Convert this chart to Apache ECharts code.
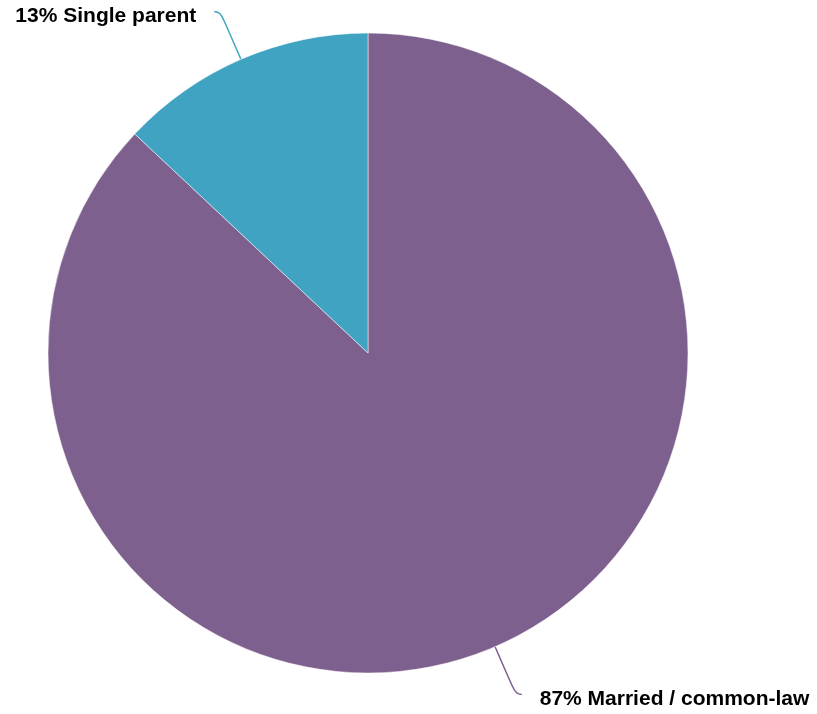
<!DOCTYPE html>
<html><head><meta charset="utf-8">
<script src="https://cdn.jsdelivr.net/npm/echarts@6/dist/echarts.min.js"></script>
<style>html,body{margin:0;padding:0;background:#fff}#c{width:817px;height:714px}</style>
</head><body><div id="c"></div>
<script>
const categories = ['Married / common-law', 'Single parent'];
const values = [87, 13];
const colors = ['#7d608d', '#41a3c2'];
const chart = echarts.init(document.getElementById('c'));
chart.setOption({
  animation: false,
  series: [{
    type: 'pie',
    center: [368, 353],
    radius: [0, 320],
    startAngle: 90,
    clockwise: true,
    data: categories.map((n, i) => ({name: n, value: values[i], itemStyle: {color: colors[i]}})),
    itemStyle: {borderColor: '#fff', borderWidth: 0.5},
    label: {
      formatter: p => p.value + '% ' + p.name,
      fontFamily: 'Liberation Sans, Arial, sans-serif',
      fontWeight: 'bold',
      fontSize: 21,
      color: '#000',
      overflow: 'none',
      distanceToLabelLine: 18
    },
    labelLayout: function () { return {dy: 5}; },
    labelLine: {length: 52, length2: 6, smooth: 0.6, lineStyle: {width: 1.5}}
  }]
});
</script></body></html>
